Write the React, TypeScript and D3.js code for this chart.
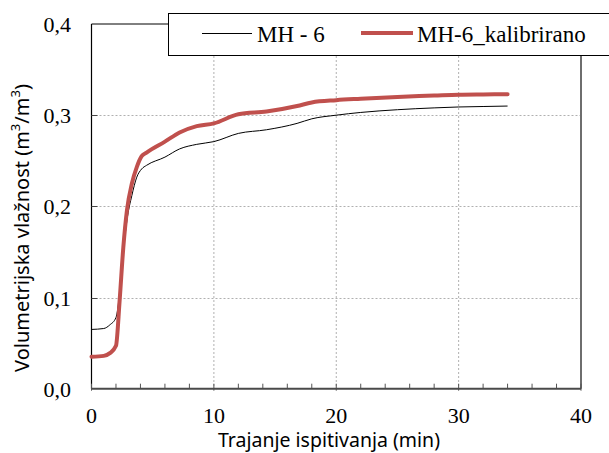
import React from "react";
import * as d3 from "d3";

const times = [0, 1, 1.5, 2, 2.3, 2.6, 2.9, 3.3, 3.7, 4.1, 4.5, 6, 7.2, 8.6, 10, 12, 14.3, 16.8, 18, 20, 22, 25, 28, 30, 32, 34];
const mh6 = [0.065, 0.066, 0.07, 0.078, 0.105, 0.15, 0.185, 0.212, 0.232, 0.241, 0.245, 0.254, 0.263, 0.268, 0.271, 0.28, 0.284, 0.291, 0.296, 0.3, 0.303, 0.306, 0.308, 0.309, 0.3095, 0.31];
const mh6Kal = [0.035, 0.036, 0.039, 0.047, 0.097, 0.155, 0.196, 0.225, 0.243, 0.255, 0.259, 0.271, 0.281, 0.288, 0.291, 0.301, 0.304, 0.31, 0.314, 0.3165, 0.318, 0.32, 0.3215, 0.3225, 0.3228, 0.323];
const xTicks = [0, 10, 20, 30, 40];
const yTicks = [0, 0.1, 0.2, 0.3, 0.4];
const seriesNames = ["MH - 6", "MH-6_kalibrirano"];

export default function App() {
  const W = 609, H = 453;
  const left = 91.5, right = 581, top = 24, bottom = 388.7;
  const x = d3.scaleLinear().domain([0, 40]).range([left, right]);
  const y = d3.scaleLinear().domain([0, 0.4]).range([bottom, top]);
  const line = d3.line<number>().x((_, i) => x(times[i])).y((d) => y(d)).curve(d3.curveMonotoneX);
  const minor = d3.range(0, 41, 2);
  const serif = "Liberation Serif";
  const sans = "Noto Sans";
  const legX = 168, legY = 13, legH = 42;
  return (
    <svg width={W} height={H} style={{ position: "absolute", left: 0, top: 0, background: "#fff" }}>
      {[10, 20, 30].map((t) => (
        <line key={"gx" + t} x1={x(t)} x2={x(t)} y1={top} y2={bottom} stroke="#b0b0b0" strokeDasharray="2,2" />
      ))}
      {[0.1, 0.2, 0.3].map((v) => (
        <line key={"gy" + v} x1={left} x2={right} y1={Math.round(y(v)) + 0.5} y2={Math.round(y(v)) + 0.5} stroke="#b0b0b0" strokeDasharray="2,2" />
      ))}
      <line x1={left} x2={right} y1={top} y2={top} stroke="#000" strokeWidth={1} />
      <line x1={right} x2={right} y1={top} y2={bottom} stroke="#6e6e6e" strokeWidth={2} />
      <line x1={left} x2={left} y1={top} y2={bottom} stroke="#000" strokeWidth={1.2} />
      {[0.1, 0.2, 0.3].map((v) => (
        <line key={"yt" + v} x1={left} x2={left + 6} y1={Math.round(y(v)) + 0.5} y2={Math.round(y(v)) + 0.5} stroke="#444" strokeWidth={1} />
      ))}
      {minor.map((t) => (
        <line key={"xt" + t} x1={x(t)} x2={x(t)} y1={bottom - 5} y2={bottom + (t % 10 === 0 ? 2 : 0)} stroke="#555" strokeWidth={1} />
      ))}
      <line x1={left} x2={right} y1={bottom} y2={bottom} stroke="#4a4a4a" strokeWidth={2} />
      <path d={line(mh6) || ""} fill="none" stroke="#000" strokeWidth={1} />
      <path d={line(mh6Kal) || ""} fill="none" stroke="#c0504d" strokeWidth={4} strokeLinejoin="round" strokeLinecap="round" />
      {xTicks.map((t) => (
        <text key={"xl" + t} x={x(t)} y={423} textAnchor="middle" fontFamily={serif} fontSize={22} fill="#000">{t}</text>
      ))}
      {yTicks.map((v) => (
        <text key={"yl" + v} x={71} y={y(v) + 8} textAnchor="end" fontFamily={serif} fontSize={22} fill="#000">{d3.format(".1f")(v).replace(".", ",")}</text>
      ))}
      <text x={329} y={447} textAnchor="middle" fontFamily={sans} fontSize={19.5} fill="#000">Trajanje ispitivanja (min)</text>
      <text transform={`translate(29,228) rotate(-90)`} textAnchor="middle" fontFamily={sans} fontSize={20} fill="#000">
        Volumetrijska vlažnost (m<tspan baselineShift="super" fontSize={13}>3</tspan>/m<tspan baselineShift="super" fontSize={13}>3</tspan>)
      </text>
      <rect x={legX + 0.5} y={legY + 0.5} width={W} height={legH} fill="#fff" stroke="#000" strokeWidth={1} />
      <line x1={202} x2={252} y1={33.5} y2={33.5} stroke="#000" strokeWidth={1} />
      <text x={257} y={42} fontFamily={serif} fontSize={23} fill="#000">{seriesNames[0]}</text>
      <line x1={361} x2={413} y1={33} y2={33} stroke="#c0504d" strokeWidth={4} />
      <text x={417} y={42} fontFamily={serif} fontSize={23} fill="#000">{seriesNames[1]}</text>
    </svg>
  );
}
